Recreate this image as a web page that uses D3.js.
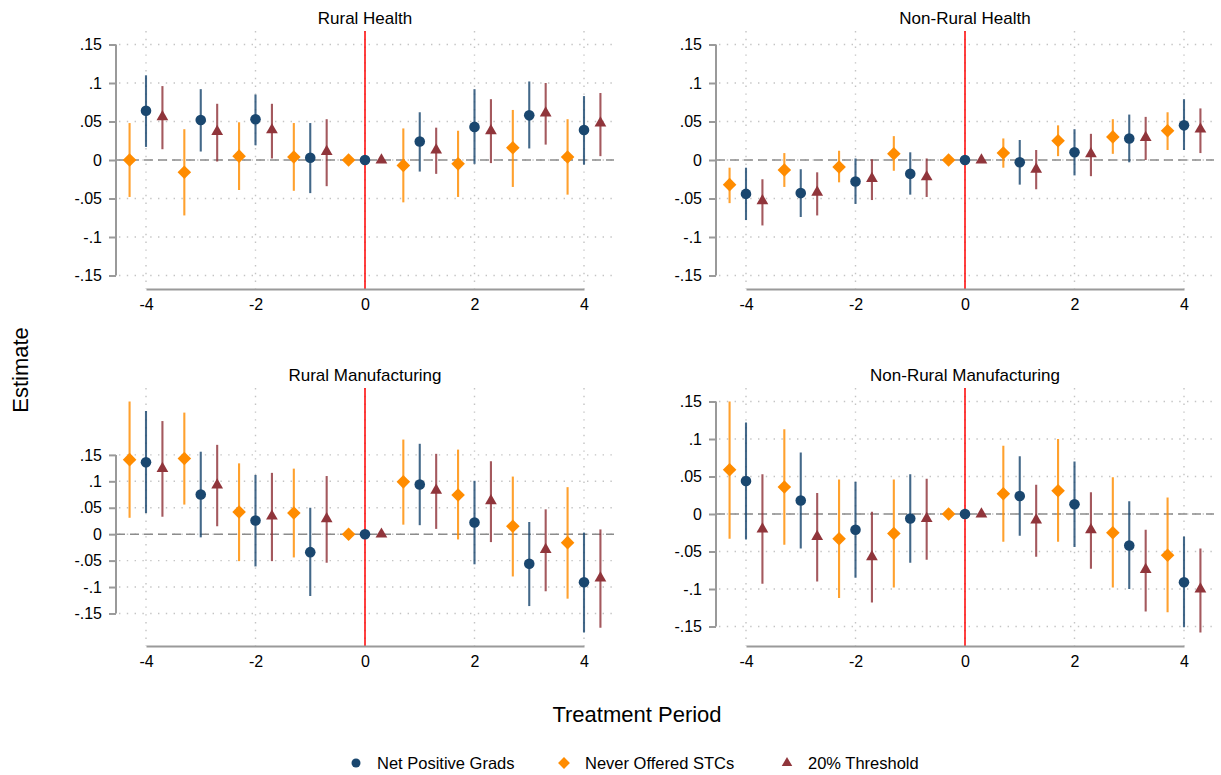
<!DOCTYPE html>
<html>
<head>
<meta charset="utf-8">
<script src="https://cdn.jsdelivr.net/npm/d3@7"></script>
<style>
    body { margin: 0; background: #fff; }
    svg text { font-family: "Liberation Sans", Arial, sans-serif; fill: #000; }
</style>
</head>
<body>
<div id="chart"></div>
<script>
// treatment periods on the x axis
var periods = [-4, -3, -2, -1, 0, 1, 2, 3, 4];
var xTicks = [-4, -2, 0, 2, 4];
var xTickLabels = ["-4", "-2", "0", "2", "4"];
var yTicks = [-0.15, -0.1, -0.05, 0, 0.05, 0.1, 0.15];
var yTickLabels = ["-.15", "-.1", "-.05", "0", ".05", ".1", ".15"];
var panelTitles = ["Rural Health", "Non-Rural Health", "Rural Manufacturing", "Non-Rural Manufacturing"];
var seriesNames = ["Net Positive Grads", "Never Offered STCs", "20% Threshold"];

// [estimate, lower, upper] for each period
var ruralHealthNet   = [[0.064, 0.017, 0.110], [0.052, 0.011, 0.092], [0.053, 0.019, 0.085], [0.003, -0.043, 0.048], [0, 0, 0], [0.024, -0.015, 0.062], [0.043, -0.005, 0.092], [0.058, 0.015, 0.102], [0.039, -0.006, 0.083]];
var ruralHealthNever = [[0.000, -0.048, 0.048], [-0.016, -0.072, 0.040], [0.005, -0.039, 0.049], [0.004, -0.040, 0.048], [0, 0, 0], [-0.007, -0.055, 0.041], [-0.005, -0.048, 0.038], [0.016, -0.035, 0.065], [0.004, -0.045, 0.053]];
var ruralHealthThr   = [[0.056, 0.014, 0.096], [0.037, -0.002, 0.073], [0.039, 0.002, 0.073], [0.011, -0.034, 0.053], [0, 0, 0], [0.013, -0.018, 0.042], [0.038, -0.004, 0.079], [0.061, 0.020, 0.100], [0.048, 0.005, 0.087]];

var nonRuralHealthNet   = [[-0.044, -0.078, -0.010], [-0.043, -0.074, -0.012], [-0.028, -0.057, 0.002], [-0.018, -0.045, 0.010], [0, 0, 0], [-0.003, -0.032, 0.026], [0.010, -0.020, 0.040], [0.028, -0.003, 0.059], [0.045, 0.013, 0.079]];
var nonRuralHealthNever = [[-0.032, -0.056, -0.010], [-0.013, -0.035, 0.009], [-0.009, -0.029, 0.012], [0.008, -0.014, 0.031], [0, 0, 0], [0.009, -0.010, 0.028], [0.025, 0.005, 0.045], [0.030, 0.008, 0.053], [0.038, 0.013, 0.062]];
var nonRuralHealthThr   = [[-0.053, -0.085, -0.025], [-0.042, -0.072, -0.016], [-0.024, -0.052, 0.001], [-0.022, -0.048, 0.002], [0, 0, 0], [-0.012, -0.038, 0.013], [0.008, -0.021, 0.034], [0.029, 0.000, 0.056], [0.040, 0.009, 0.067]];

var ruralManufNet   = [[0.136, 0.040, 0.233], [0.075, -0.006, 0.156], [0.026, -0.061, 0.112], [-0.034, -0.117, 0.050], [0, 0, 0], [0.094, 0.017, 0.171], [0.022, -0.057, 0.101], [-0.056, -0.136, 0.023], [-0.091, -0.186, 0.003]];
var ruralManufNever = [[0.141, 0.031, 0.251], [0.143, 0.056, 0.230], [0.042, -0.051, 0.134], [0.040, -0.044, 0.124], [0, 0, 0], [0.099, 0.018, 0.179], [0.074, -0.010, 0.160], [0.015, -0.080, 0.109], [-0.016, -0.122, 0.089]];
var ruralManufThr   = [[0.124, 0.033, 0.214], [0.093, 0.015, 0.169], [0.034, -0.051, 0.116], [0.029, -0.054, 0.110], [0, 0, 0], [0.083, 0.010, 0.152], [0.063, -0.015, 0.138], [-0.029, -0.108, 0.047], [-0.083, -0.177, 0.009]];

var nonRuralManufNet   = [[0.044, -0.034, 0.122], [0.018, -0.046, 0.082], [-0.021, -0.085, 0.043], [-0.006, -0.065, 0.053], [0, 0, 0], [0.024, -0.029, 0.077], [0.013, -0.044, 0.070], [-0.042, -0.100, 0.017], [-0.091, -0.151, -0.030]];
var nonRuralManufNever = [[0.059, -0.033, 0.150], [0.036, -0.041, 0.113], [-0.033, -0.112, 0.046], [-0.026, -0.098, 0.046], [0, 0, 0], [0.027, -0.037, 0.091], [0.031, -0.037, 0.100], [-0.025, -0.098, 0.049], [-0.055, -0.131, 0.022]];
var nonRuralManufThr   = [[-0.020, -0.093, 0.053], [-0.030, -0.090, 0.028], [-0.057, -0.118, 0.003], [-0.006, -0.061, 0.047], [0, 0, 0], [-0.008, -0.057, 0.039], [-0.021, -0.073, 0.029], [-0.074, -0.130, -0.021], [-0.100, -0.158, -0.046]];

(function(){
    var svg;

    // square diamond like the Stata marker
    var diamond = {
        draw: function(ctx, size) {
            var r = Math.sqrt(size) / 2 * Math.SQRT2;
            ctx.moveTo(0, -r);
            ctx.lineTo(r, 0);
            ctx.lineTo(0, r);
            ctx.lineTo(-r, 0);
            ctx.closePath();
        }
    };

    // offset, marker and colours for each series (same order as seriesNames)
    var styles = [
        {dx: 0,    shape: d3.symbolCircle,   size: 88,  fill: "#1a476f", line: "#1a476f"},
        {dx: -0.3, shape: diamond,           size: 92,  fill: "#ff8c00", line: "#ff8c00"},
        {dx: 0.3,  shape: d3.symbolTriangle, size: 60,  fill: "#90353b", line: "#90353b"}
    ];

    var Chart = {
        dim: { w: 1221, h: 775 },
        // left = y axis position, top = plot top, bottom = x axis position
        panels: [
            {left: 116, top: 31,  bottom: 289, data: [ruralHealthNet, ruralHealthNever, ruralHealthThr]},
            {left: 716, top: 31,  bottom: 289, data: [nonRuralHealthNet, nonRuralHealthNever, nonRuralHealthThr]},
            {left: 116, top: 388, bottom: 646, data: [ruralManufNet, ruralManufNever, ruralManufThr]},
            {left: 716, top: 388, bottom: 646, data: [nonRuralManufNet, nonRuralManufNever, nonRuralManufThr]}
        ],
        init: function() {
            svg = d3.select("#chart")
                .append("svg")
                .attr("width", this.dim.w)
                .attr("height", this.dim.h);
            this.panels.forEach(function(p, i) { Chart.drawPanel(p, panelTitles[i]); });
            this.drawLabels();
        },
        drawPanel: function(p, title) {
            var g = svg.append("g");
            var x = d3.scaleLinear().domain([-4, 4]).range([p.left + 30, p.left + 468]);
            var right = p.left + 498;

            // y range covers ticks and all intervals, padded like Stata
            var lo = d3.min(p.data, function(s) { return d3.min(s, function(d) { return d[1]; }); });
            var hi = d3.max(p.data, function(s) { return d3.max(s, function(d) { return d[2]; }); });
            var y = d3.scaleLinear()
                .domain([Math.min(lo, yTicks[0]), Math.max(hi, yTicks[yTicks.length - 1])])
                .range([p.bottom - 13.5, p.top + 13.5]);

            // dotted grid
            g.selectAll(".hgrid").data(yTicks).enter().append("line")
                .attr("x1", p.left + 3).attr("x2", right)
                .attr("y1", function(d) { return y(d); }).attr("y2", function(d) { return y(d); })
                .attr("stroke", "#c4c4c4").attr("stroke-width", 1.4).attr("stroke-dasharray", "1.4,6.4");
            g.selectAll(".vgrid").data(xTicks).enter().append("line")
                .attr("x1", function(d) { return x(d); }).attr("x2", function(d) { return x(d); })
                .attr("y1", p.top).attr("y2", p.bottom)
                .attr("stroke", "#c4c4c4").attr("stroke-width", 1.4).attr("stroke-dasharray", "1.4,6.4");

            // zero line and treatment line
            g.append("line")
                .attr("x1", p.left).attr("x2", right)
                .attr("y1", y(0)).attr("y2", y(0))
                .attr("stroke", "#8c8c8c").attr("stroke-width", 1.6).attr("stroke-dasharray", "9,5");
            g.append("line")
                .attr("x1", x(0)).attr("x2", x(0))
                .attr("y1", p.top).attr("y2", p.bottom)
                .attr("stroke", "#ff0000").attr("stroke-width", 1.5);

            // y axis: line only between the outer ticks
            var yAxis = d3.axisLeft(y)
                .tickValues(yTicks)
                .tickFormat(function(d, i) { return yTickLabels[i]; })
                .tickSize(7).tickSizeOuter(0).tickPadding(7);
            var ya = g.append("g").attr("transform", "translate(" + p.left + ",0)").call(yAxis);
            ya.attr("font-family", null);
            ya.select(".domain").remove();
            ya.append("line")
                .attr("y1", y(yTicks[0])).attr("y2", y(yTicks[yTicks.length - 1]))
                .attr("stroke", "#9a9a9a").attr("stroke-width", 2);
            ya.selectAll(".tick line").attr("stroke", "#9a9a9a").attr("stroke-width", 2);
            ya.selectAll("text").attr("font-size", "16px").attr("fill", "#000");

            // x axis
            var xAxis = d3.axisBottom(x)
                .tickValues(xTicks)
                .tickFormat(function(d, i) { return xTickLabels[i]; })
                .tickSize(0).tickSizeOuter(0).tickPadding(10);
            var xa = g.append("g").attr("transform", "translate(0," + p.bottom + ")").call(xAxis);
            xa.attr("font-family", null);
            xa.select(".domain").attr("stroke", "#9a9a9a").attr("stroke-width", 2.2);
            xa.selectAll("text").attr("font-size", "16px").attr("fill", "#000");

            // title
            g.append("text")
                .attr("x", x(0)).attr("y", p.top - 7)
                .attr("text-anchor", "middle")
                .attr("font-size", "17px")
                .text(title);

            // intervals then markers, one series at a time
            p.data.forEach(function(series, k) {
                var st = styles[k];
                var sg = g.append("g");
                var withCi = series.map(function(d, i) { return {t: periods[i], v: d}; })
                    .filter(function(d) { return d.v[2] > d.v[1]; });
                sg.selectAll("line").data(withCi).enter().append("line")
                    .attr("x1", function(d) { return x(d.t + st.dx); })
                    .attr("x2", function(d) { return x(d.t + st.dx); })
                    .attr("y1", function(d) { return y(d.v[1]); })
                    .attr("y2", function(d) { return y(d.v[2]); })
                    .attr("stroke", st.line).attr("stroke-opacity", 0.82).attr("stroke-width", 2.1);
                sg.selectAll("path").data(series).enter().append("path")
                    .attr("d", d3.symbol().type(st.shape).size(st.size))
                    .attr("transform", function(d, i) {
                        return "translate(" + x(periods[i] + st.dx) + "," + y(d[0]) + ")";
                    })
                    .attr("fill", st.fill);
            });
        },
        drawLabels: function() {
            svg.append("text")
                .attr("transform", "translate(28,370) rotate(-90)")
                .attr("text-anchor", "middle")
                .attr("font-size", "22px")
                .text("Estimate");
            svg.append("text")
                .attr("x", 637).attr("y", 722)
                .attr("text-anchor", "middle")
                .attr("font-size", "22px")
                .text("Treatment Period");

            // legend
            var legendX = [356, 564, 787];
            var legendSizes = [64, 70, 48];
            var leg = svg.selectAll(".legend").data(seriesNames).enter().append("g")
                .attr("transform", function(d, i) { return "translate(" + legendX[i] + ",763)"; });
            leg.append("path")
                .attr("d", function(d, i) {
                    return d3.symbol().type(styles[i].shape).size(legendSizes[i])();
                })
                .attr("fill", function(d, i) { return styles[i].fill; });
            leg.append("text")
                .attr("x", 21).attr("y", 6)
                .attr("font-size", "16.5px")
                .text(function(d) { return d; });
        }
    };

    Chart.init();
})();
</script>
</body>
</html>
